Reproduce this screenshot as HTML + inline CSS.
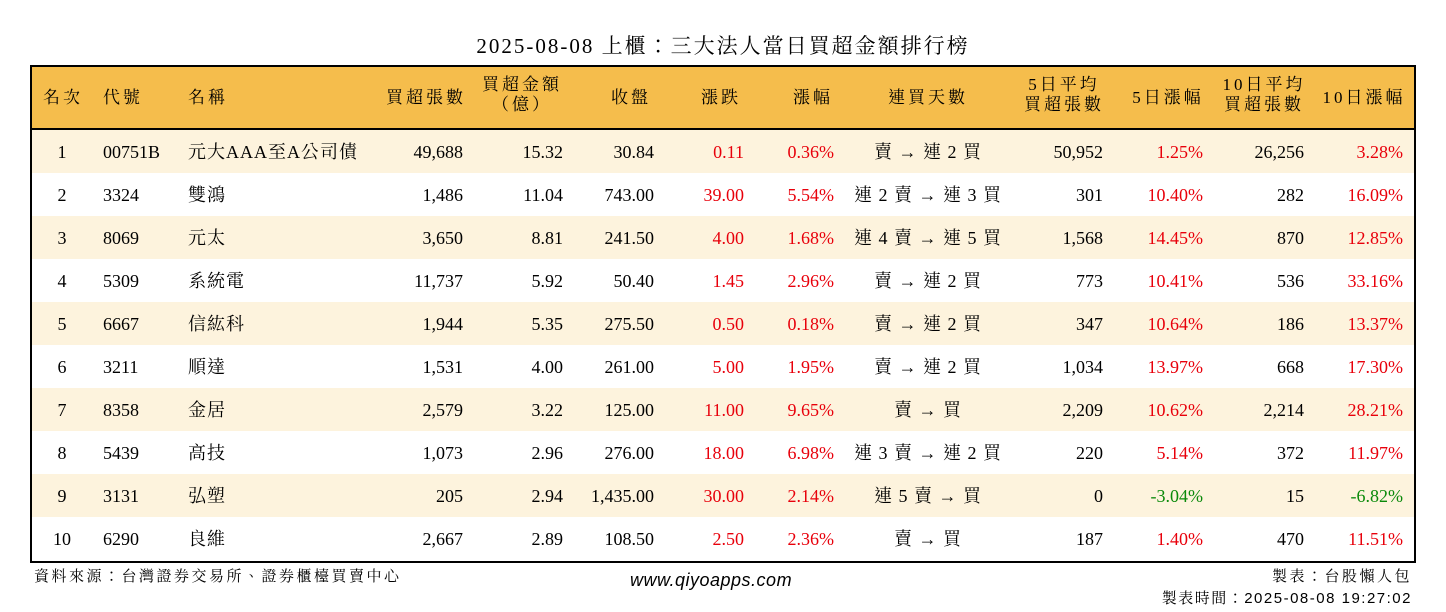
<!DOCTYPE html>
<html><head><meta charset="utf-8">
<style>
body{margin:0;width:1446px;height:612px;background:#fff;position:relative;overflow:hidden;font-family:"Liberation Serif","Noto Serif CJK TC","Noto Serif CJK SC",serif;color:#000}
.t{position:absolute;white-space:nowrap;font-size:18px;line-height:20px}
#title{position:absolute;left:0;width:1446px;top:30px;text-align:center;font-size:21px;letter-spacing:2px}
#box{position:absolute;left:30px;top:65px;width:1382px;height:494px;border:2px solid #000}
#head{position:absolute;left:32px;top:67px;width:1382px;height:61px;background:#F5BD4C;border-bottom:2px solid #000}
.row{position:absolute;left:32px;width:1382px;height:43px}
.h{font-size:17px;line-height:20px;letter-spacing:3px}
.s{letter-spacing:1px}
.r{color:#e8000b}.g{color:#0a8a0a}
.foot{position:absolute;font-size:15px;line-height:17px;white-space:nowrap;font-family:"Liberation Sans","Noto Serif CJK TC",serif;letter-spacing:2.5px}
</style></head><body>
<div id="title">2025-08-08 上櫃：三大法人當日買超金額排行榜</div>
<div id="head"></div>
<div id="rows"></div>
<div id="box"></div>
<div class="foot" style="left:34px;top:568px">資料來源：台灣證券交易所、證券櫃檯買賣中心</div>
<div class="foot" style="left:630px;top:570px;font-size:18px;line-height:20px;font-style:italic;letter-spacing:0.5px;font-family:'Liberation Sans',sans-serif">www.qiyoapps.com</div>
<div class="foot" style="right:34px;top:568px">製表：台股懶人包</div>
<div class="foot" style="right:34px;top:590px;letter-spacing:1.5px">製表時間：2025-08-08 19:27:02</div>
<script>
const ranks=["1","2","3","4","5","6","7","8","9","10"];
const codes=["00751B","3324","8069","5309","6667","3211","8358","5439","3131","6290"];
const names=["元大AAA至A公司債","雙鴻","元太","系統電","信紘科","順達","金居","高技","弘塑","良維"];
const lots=["49,688","1,486","3,650","11,737","1,944","1,531","2,579","1,073","205","2,667"];
const amounts=["15.32","11.04","8.81","5.92","5.35","4.00","3.22","2.96","2.94","2.89"];
const closes=["30.84","743.00","241.50","50.40","275.50","261.00","125.00","276.00","1,435.00","108.50"];
const changes=["0.11","39.00","4.00","1.45","0.50","5.00","11.00","18.00","30.00","2.50"];
const pcts=["0.36%","5.54%","1.68%","2.96%","0.18%","1.95%","9.65%","6.98%","2.14%","2.36%"];
const streaks=["賣 → 連 2 買","連 2 賣 → 連 3 買","連 4 賣 → 連 5 買","賣 → 連 2 買","賣 → 連 2 買","賣 → 連 2 買","賣 → 買","連 3 賣 → 連 2 買","連 5 賣 → 買","賣 → 買"];
const avg5=["50,952","301","1,568","773","347","1,034","2,209","220","0","187"];
const pct5=["1.25%","10.40%","14.45%","10.41%","10.64%","13.97%","10.62%","5.14%","-3.04%","1.40%"];
const avg10=["26,256","282","870","536","186","668","2,214","372","15","470"];
const pct10=["3.28%","16.09%","12.85%","33.16%","13.37%","17.30%","28.21%","11.97%","-6.82%","11.51%"];

function put(parent,text,x,align,cls,name,top){
  const d=document.createElement('div');
  d.className='t '+(cls||'');
  d.textContent=text;
  if(top!==undefined)d.style.top=top+'px';
  if(align==='l')d.style.left=x+'px';
  else if(align==='r')d.style.right=(1446-x)+'px';
  else{d.style.left=(x-150)+'px';d.style.width='300px';d.style.textAlign='center';}
  
  
  parent.appendChild(d);return d;
}
const H=document.body;
function hdr(lines,x,align,name){
  const top=lines.length===1?88:75;
  const d=put(H,'',x,align,'h',name,top);
  d.innerHTML=lines.join('<br>');
}
hdr(["名次"],43,'l','header-rank');
hdr(["代號"],103,'l','header-code');
hdr(["名稱"],188,'l','header-name');
hdr(["買超張數"],466,'r','header-net-lots');
hdr(["買超金額","（億）"],522,'c','header-net-amount');
hdr(["收盤"],631,'c','header-close');
hdr(["漲跌"],721,'c','header-change');
hdr(["漲幅"],813,'c','header-pct');
hdr(["連買天數"],928,'c','header-streak');
hdr(["5日平均","買超張數"],1064,'c','header-avg5');
hdr(["5日漲幅"],1168,'c','header-pct5');
hdr(["10日平均","買超張數"],1264,'c','header-avg10');
hdr(["10日漲幅"],1364,'c','header-pct10');

const rowsEl=document.getElementById('rows');
function cls(v){return v.startsWith('-')?'g':'r';}
ranks.forEach((rk,i)=>{
  const y=130+i*43;
  const bg=document.createElement('div');
  bg.className='row';bg.style.top=y+'px';
  bg.style.background=i%2===0?'#FDF3DD':'#fff';
  
  
  rowsEl.appendChild(bg);
  const ty=y+12;
  put(rowsEl,rk,62,'c','','rank-cell',ty);
  put(rowsEl,codes[i],103,'l','','code-cell',ty);
  put(rowsEl,names[i],188,'l','s','name-cell',ty);
  put(rowsEl,lots[i],463,'r','','net-lots-cell',ty);
  put(rowsEl,amounts[i],563,'r','','net-amount-cell',ty);
  put(rowsEl,closes[i],654,'r','','close-cell',ty);
  put(rowsEl,changes[i],744,'r',cls(changes[i]),'change-cell',ty);
  put(rowsEl,pcts[i],834,'r',cls(pcts[i]),'pct-cell',ty);
  put(rowsEl,streaks[i],928,'c','s','streak-cell',ty);
  put(rowsEl,avg5[i],1103,'r','','avg5-cell',ty);
  put(rowsEl,pct5[i],1203,'r',cls(pct5[i]),'pct5-cell',ty);
  put(rowsEl,avg10[i],1304,'r','','avg10-cell',ty);
  put(rowsEl,pct10[i],1403,'r',cls(pct10[i]),'pct10-cell',ty);
});
</script>
</body></html>
